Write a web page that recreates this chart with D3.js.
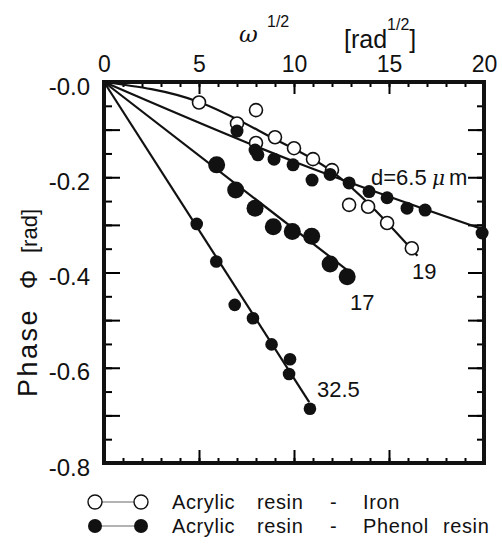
<!DOCTYPE html>
<html>
<head>
<meta charset="utf-8">
<script src="https://cdn.jsdelivr.net/npm/d3@7"></script>
<style>
body { margin: 0; background: #fff; }
text { font-family: "Liberation Sans", Arial, sans-serif; fill: #111; }
</style>
</head>
<body>
<script>
// values: omega^1/2 [rad^1/2] against phase [rad]
const ironX     = [5, 8, 7, 8, 9, 10, 11, 12, 12.9, 13.9, 14.9, 16.2];
const ironPhase = [-0.043, -0.059, -0.087, -0.128, -0.116, -0.139, -0.162, -0.185, -0.258, -0.262, -0.296, -0.349];

const d65X     = [7, 7.95, 8.1, 8.95, 9.95, 10.95, 11.9, 12.9, 13.95, 14.9, 15.95, 16.9, 19.9];
const d65Phase = [-0.103, -0.143, -0.153, -0.162, -0.174, -0.206, -0.194, -0.212, -0.23, -0.243, -0.265, -0.269, -0.317];

const d17X     = [5.93, 6.93, 7.95, 8.91, 9.91, 10.93, 11.9, 12.8];
const d17Phase = [-0.174, -0.227, -0.265, -0.304, -0.314, -0.324, -0.382, -0.409];

const d325X     = [4.88, 5.91, 6.88, 7.84, 8.82, 9.79, 9.74, 10.84];
const d325Phase = [-0.298, -0.377, -0.468, -0.496, -0.551, -0.582, -0.613, -0.686];

// hand drawn fit lines (knots)
const fitIron = [[0, 0], [5, -0.042], [8.8, -0.116], [11.9, -0.185], [16.5, -0.365]];
const fit65   = [[0, 0], [10.26, -0.171], [20, -0.31]];
const fit17   = [[0, 0], [12.9, -0.398]];
const fit325  = [[0, 0], [10.8, -0.672]];

const xTicks = [0, 5, 10, 15, 20];
const yTicks = [0, -0.2, -0.4, -0.6, -0.8];

const width = 502;
const height = 547;

const svg = d3.select('body').append('svg')
    .attr('width', width)
    .attr('height', height);

const x = d3.scaleLinear().domain([0, 20]).range([104, 484]);
const y = d3.scaleLinear().domain([0, -0.8]).range([82, 463]);

function cleanAxis(g) {
    g.select('.domain').remove();
    g.selectAll('line').attr('stroke-width', 2);
    g.attr('font-family', null).attr('font-size', null);
}

// top axis
svg.append('g').attr('transform', 'translate(0,82)')
    .call(d3.axisTop(x).tickValues(d3.range(0, 21)).tickSize(-5).tickFormat(''))
    .call(cleanAxis);
svg.append('g').attr('transform', 'translate(0,82)')
    .call(d3.axisTop(x).tickValues([5, 10, 15]).tickSize(-12).tickFormat(''))
    .call(cleanAxis);
svg.append('g').attr('transform', 'translate(0,82)')
    .call(d3.axisTop(x).tickValues(xTicks).tickSize(0).tickPadding(10))
    .call(cleanAxis)
    .selectAll('text').style('font-size', '23px');

// bottom axis
svg.append('g').attr('transform', 'translate(0,463)')
    .call(d3.axisBottom(x).tickValues(d3.range(0, 21)).tickSize(-5).tickFormat(''))
    .call(cleanAxis);
svg.append('g').attr('transform', 'translate(0,463)')
    .call(d3.axisBottom(x).tickValues([5, 10, 15]).tickSize(-13).tickFormat(''))
    .call(cleanAxis);

// left + right axes
const minorY = d3.range(0, 17).map(i => -i * 0.05);
const majorY = d3.range(0, 9).map(i => -i * 0.1);
svg.append('g').attr('transform', 'translate(104,0)')
    .call(d3.axisLeft(y).tickValues(minorY).tickSize(-8).tickFormat(''))
    .call(cleanAxis);
svg.append('g').attr('transform', 'translate(104,0)')
    .call(d3.axisLeft(y).tickValues(majorY).tickSize(-16).tickFormat(''))
    .call(cleanAxis);
svg.append('g').attr('transform', 'translate(104,0)')
    .call(d3.axisLeft(y).tickValues(yTicks).tickSize(0).tickPadding(14)
        .tickFormat(d => '-' + Math.abs(d).toFixed(1)))
    .call(cleanAxis)
    .selectAll('text').style('font-size', '24px').attr('dy', '0.5em');
svg.append('g').attr('transform', 'translate(484,0)')
    .call(d3.axisRight(y).tickValues(minorY).tickSize(-7).tickFormat(''))
    .call(cleanAxis);
svg.append('g').attr('transform', 'translate(484,0)')
    .call(d3.axisRight(y).tickValues(majorY).tickSize(-16).tickFormat(''))
    .call(cleanAxis);

// frame
svg.append('rect')
    .attr('x', x(0)).attr('y', y(0))
    .attr('width', x(20) - x(0)).attr('height', y(-0.8) - y(0))
    .attr('fill', 'none').attr('stroke', '#111').attr('stroke-width', 4);

// fit lines
const line = d3.line().x(d => x(d[0])).y(d => y(d[1])).curve(d3.curveMonotoneX);
[fitIron, fit65, fit17, fit325].forEach(f => {
    svg.append('path').datum(f)
        .attr('d', line)
        .attr('fill', 'none').attr('stroke', '#111').attr('stroke-width', 2.2);
});

// points
function drawPoints(xs, ys, r, open) {
    svg.append('g').selectAll('circle')
        .data(xs.map((v, i) => [v, ys[i]]))
        .enter().append('circle')
        .attr('cx', d => x(d[0]))
        .attr('cy', d => y(d[1]))
        .attr('r', r)
        .attr('fill', open ? '#fff' : '#111')
        .attr('stroke', '#111')
        .attr('stroke-width', open ? 1.6 : 0);
}
drawPoints(ironX, ironPhase, 6.5, true);
drawPoints(d65X, d65Phase, 6.5, false);
drawPoints(d17X, d17Phase, 8.5, false);
drawPoints(d325X, d325Phase, 6.3, false);

// curve labels
const dLab = svg.append('text').attr('x', 371).attr('y', 185).style('font-size', '22px');
dLab.append('tspan').text('d=6.5');
dLab.append('tspan').attr('x', 432).style('font-family', '"DejaVu Serif", serif')
    .style('font-style', 'italic').style('font-size', '20px').text('μ');
dLab.append('tspan').attr('x', 449).text('m');
svg.append('text').attr('x', 412).attr('y', 279).style('font-size', '22px').text('19');
svg.append('text').attr('x', 350).attr('y', 310).style('font-size', '22px').text('17');
svg.append('text').attr('x', 317).attr('y', 397).style('font-size', '22px').text('32.5');

// axis titles
svg.append('text').attr('x', 239).attr('y', 42)
    .style('font-family', '"DejaVu Serif", serif').style('font-style', 'italic')
    .style('font-size', '23px').text('ω');
svg.append('text').attr('x', 267).attr('y', 27).style('font-size', '16px').text('1/2');
const radT = svg.append('text').attr('x', 344).attr('y', 48).style('font-size', '25px');
radT.append('tspan').text('[rad');
radT.append('tspan').attr('dy', -18).style('font-size', '16px').text('1/2');
radT.append('tspan').attr('dy', 18).text(']');

const yT = svg.append('text')
    .attr('transform', 'translate(37,397) rotate(-90)');
yT.append('tspan').style('font-size', '27px').style('letter-spacing', '2.5px').text('Phase');
yT.append('tspan').attr('x', 108).style('font-size', '24px').text('Φ');
yT.append('tspan').attr('x', 144).style('font-size', '22px').text('[rad]');

// legend
const legendRows = [
    {partner: 'Iron', open: true},
    {partner: 'Phenol resin', open: false}
];
legendRows.forEach((row, i) => {
    const cy = 502 + i * 24;
    svg.append('line')
        .attr('x1', 95).attr('x2', 141).attr('y1', cy).attr('y2', cy)
        .attr('stroke', '#666').attr('stroke-width', 1);
    [95, 141].forEach(cx => {
        svg.append('circle').attr('cx', cx).attr('cy', cy).attr('r', 7)
            .attr('fill', row.open ? '#fff' : '#111')
            .attr('stroke', '#111').attr('stroke-width', row.open ? 1.4 : 0);
    });
    const t = svg.append('text').attr('y', cy + 7).style('font-size', '20px')
        .style('letter-spacing', '0.6px');
    t.append('tspan').attr('x', 172).text('Acrylic');
    t.append('tspan').attr('x', 257).text('resin');
    t.append('tspan').attr('x', 330).text('-');
    t.append('tspan').attr('x', 363).text(row.partner.split(' ')[0]);
    if (row.partner.split(' ')[1]) {
        t.append('tspan').attr('x', 443).text(row.partner.split(' ')[1]);
    }
});
</script>
</body>
</html>
